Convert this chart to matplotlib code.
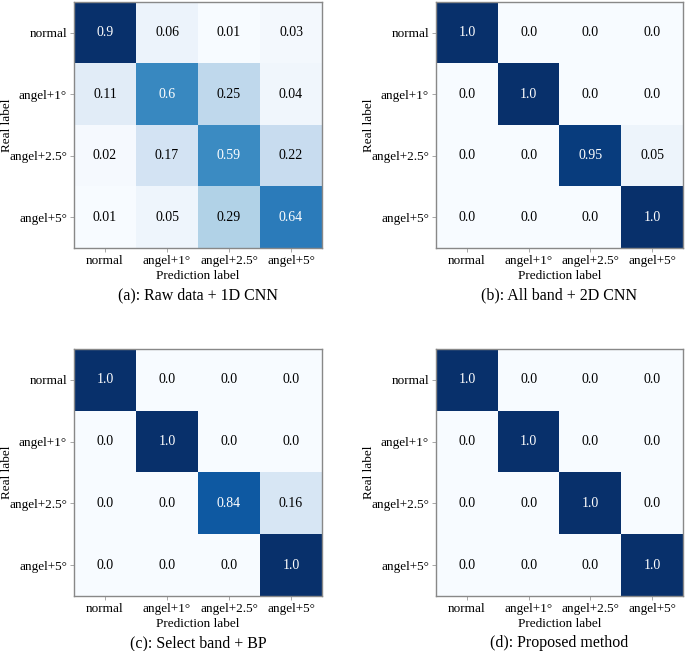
import matplotlib
matplotlib.use("Agg")
import matplotlib.pyplot as plt
import numpy as np

plt.rcParams["font.family"] = ["Liberation Serif", "DejaVu Serif"]

W, H = 685, 651

CLASSES = ["normal", "angel+1°", "angel+2.5°", "angel+5°"]

CM_A = [[0.9, 0.06, 0.01, 0.03],
        [0.11, 0.6, 0.25, 0.04],
        [0.02, 0.17, 0.59, 0.22],
        [0.01, 0.05, 0.29, 0.64]]
CM_B = [[1.0, 0.0, 0.0, 0.0],
        [0.0, 1.0, 0.0, 0.0],
        [0.0, 0.0, 0.95, 0.05],
        [0.0, 0.0, 0.0, 1.0]]
CM_C = [[1.0, 0.0, 0.0, 0.0],
        [0.0, 1.0, 0.0, 0.0],
        [0.0, 0.0, 0.84, 0.16],
        [0.0, 0.0, 0.0, 1.0]]
CM_D = [[1.0, 0.0, 0.0, 0.0],
        [0.0, 1.0, 0.0, 0.0],
        [0.0, 0.0, 1.0, 0.0],
        [0.0, 0.0, 0.0, 1.0]]

TITLES = ["(a): Raw data + 1D CNN", "(b): All band + 2D CNN",
          "(c): Select band + BP", "(d): Proposed method"]

# pixel boxes (left, top, right, bottom)
BOXES = [(74, 2, 322, 248), (436, 2, 683, 248),
         (74, 349, 322, 596), (436, 349, 683, 596)]


def draw(fig, box, cm, title):
    l, t, r, b = box
    ax = fig.add_axes([l / W, 1 - b / H, (r - l) / W, (b - t) / H])
    cm = np.array(cm)
    ax.imshow(cm, cmap="Blues", interpolation="nearest", aspect="auto")
    thresh = (cm.max() + cm.min()) / 2
    for i in range(cm.shape[0]):
        for j in range(cm.shape[1]):
            ax.text(j, i, f"{cm[i, j]}", ha="center", va="center", fontsize=10,
                    color="white" if cm[i, j] > thresh else "black")
    ax.set_xticks(range(len(CLASSES)))
    ax.set_yticks(range(len(CLASSES)))
    ax.set_xticklabels(CLASSES, fontsize=9.5)
    ax.set_yticklabels(CLASSES, fontsize=9.5)
    ax.tick_params(length=3, width=0.6, color="#999999", pad=2)
    ax.set_xlabel("Prediction label", fontsize=9.5, labelpad=2)
    ax.set_ylabel("Real label", fontsize=9.5)
    ax.yaxis.set_label_coords(-0.245, 0.5)
    for s in ax.spines.values():
        s.set_color("#888888")
        s.set_linewidth(1.0)
    fig.text((l + r) / 2 / W, 1 - (b + 47) / H, title, ha="center",
             va="center", fontsize=11.5)


fig = plt.figure(figsize=(W / 100, H / 100), dpi=100)
for box, cm, title in zip(BOXES, [CM_A, CM_B, CM_C, CM_D], TITLES):
    draw(fig, box, cm, title)

fig.savefig("out.png", dpi=100, facecolor="white")
